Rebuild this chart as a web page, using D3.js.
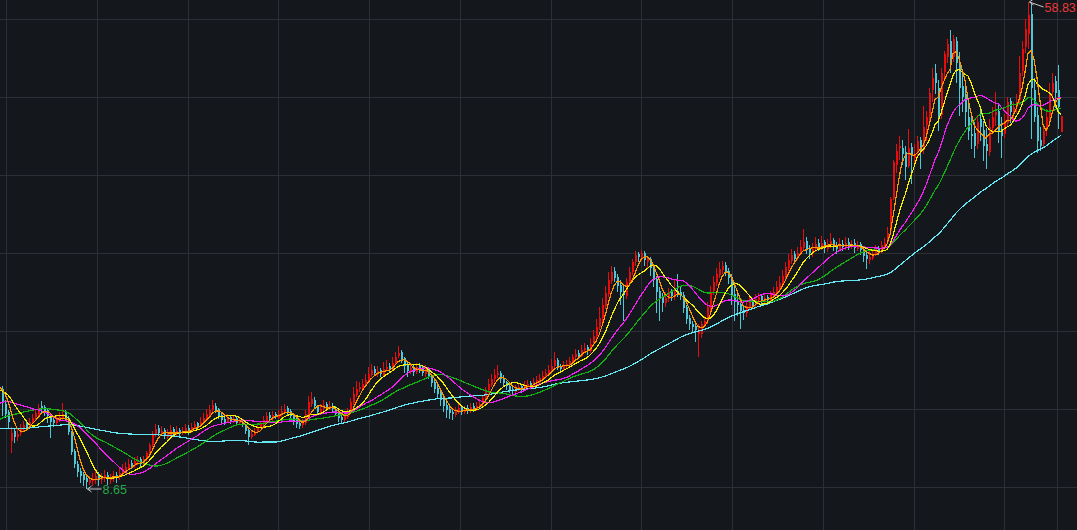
<!DOCTYPE html>
<html><head><meta charset="utf-8">
<script src="https://cdn.jsdelivr.net/npm/d3@7"></script>
<style>html,body{margin:0;padding:0;background:#14171c;overflow:hidden}</style>
</head><body><svg id="c" width="1077" height="530"></svg>
<script>
// closes before the visible window (only feed the moving averages)
const priorClose = [14.8,15.1,14.9,14.6,14.4,14.7,14.9,14.5,14.3,14.5,
14.6,14.2,13.9,14.3,14.8,14.5,14.0,13.7,13.9,14.2,
14.5,14.1,13.8,13.5,13.9,14.3,14.0,13.6,13.4,13.8,
14.1,14.4,14.0,13.7,13.5,13.9,14.2,13.8,13.4,13.1,
12.8,12.4,12.1,12.3,12.0,12.2,12.6,12.5,12.9,13.4,
14.2,15.0,15.4,15.9,16.3,16.0,16.5,16.8,17.0,17.3,
17.9,18.3,18.0,18.6,18.9,19.2,18.8,19.3,19.5,19.4];

const openV = [19.0,17.4,16.6,13.6,14.6,14.0,14.4,14.8,15.4,15.1,
15.6,16.1,16.3,17.2,17.1,16.8,16.3,15.8,15.5,15.8,
16.0,16.6,16.0,14.4,12.6,11.2,10.5,10.2,9.8,9.3,
9.5,9.6,10.0,9.6,9.8,10.1,9.6,9.7,10.1,9.9,
10.3,10.6,10.8,11.3,11.0,11.4,11.7,11.2,11.7,12.3,
13.2,14.2,14.9,14.3,14.7,14.0,14.2,14.8,14.3,14.7,
14.4,14.5,14.9,14.6,14.9,15.4,15.1,15.5,15.9,16.3,
16.8,17.2,16.9,16.3,15.9,15.6,16.1,15.6,16.0,15.4,
15.6,15.1,14.7,14.0,14.2,14.5,15.0,15.3,15.7,16.3,
15.9,16.4,16.0,16.3,16.6,17.0,16.7,16.2,15.8,15.4,
15.2,15.4,16.4,17.4,17.8,17.1,16.6,16.9,17.4,16.9,
17.2,16.9,16.5,16.1,15.8,16.1,16.5,17.5,18.3,19.0,
19.1,19.5,19.9,20.4,21.0,20.5,20.9,20.4,21.0,21.3,
21.0,21.6,22.4,22.8,22.1,21.4,20.8,21.2,20.7,21.3,
21.0,20.5,21.0,20.3,19.7,19.1,18.5,17.9,17.3,16.9,
16.6,16.3,16.6,17.1,16.6,17.0,16.7,17.2,16.8,17.1,
17.4,18.0,18.8,19.4,20.0,20.4,20.6,20.1,19.7,19.3,
19.0,18.6,18.9,19.3,18.9,19.3,19.6,19.3,19.6,19.8,
20.0,20.3,20.6,20.9,21.3,21.9,21.3,21.0,21.3,21.5,
21.8,22.2,22.7,22.4,23.0,23.3,22.9,23.6,24.4,25.3,
26.3,27.5,28.7,30.1,31.1,30.5,29.7,29.1,28.5,29.9,
31.0,32.0,32.9,32.5,33.0,32.0,32.4,31.5,30.3,29.1,
28.4,27.8,28.2,28.9,28.4,29.1,29.0,28.6,27.4,26.3,
25.7,25.4,24.6,24.6,25.6,26.0,27.3,29.1,29.9,30.7,
31.2,31.7,31.1,30.5,28.7,28.0,27.7,27.1,26.8,27.4,
27.9,27.6,28.1,28.5,28.0,28.4,28.1,28.5,28.8,29.4,
29.9,30.6,31.4,32.1,32.9,32.5,33.0,33.5,34.2,33.5,
33.0,33.4,34.0,33.6,34.1,33.4,33.8,34.3,33.8,33.4,
33.9,33.5,34.1,33.6,34.0,33.4,33.9,33.3,32.8,32.2,
32.5,32.9,33.5,33.2,33.8,34.1,35.2,38.6,42.0,43.8,
43.8,43.4,41.9,43.9,42.8,43.3,44.6,43.6,46.2,47.1,
49.8,51.5,50.0,47.2,51.6,53.2,54.8,53.2,54.8,52.3,
50.2,49.3,47.0,45.2,45.3,44.2,46.8,45.6,44.2,43.4,
45.8,47.2,47.6,45.6,45.2,46.4,48.6,47.3,48.0,48.7,
51.7,54.2,55.5,57.6,49.8,47.2,44.6,44.2,45.6,47.1,
49.6,50.7,49.8,45.4];

const highV = [19.3,17.8,16.8,15.0,14.9,14.8,15.3,15.7,15.8,16.0,
16.4,16.9,17.4,17.7,17.3,17.0,16.5,16.1,16.3,16.6,
17.5,16.8,16.2,14.6,12.8,11.5,10.8,10.4,10.1,10.0,
10.3,10.5,10.4,10.3,10.6,10.4,10.2,10.5,10.4,10.9,
11.2,11.4,11.7,11.6,11.9,12.0,11.9,12.1,12.6,13.4,
14.6,15.3,15.2,15.1,14.9,14.8,15.2,15.0,15.1,14.9,
15.0,15.3,15.2,15.5,15.7,15.6,16.1,16.5,16.9,17.3,
17.8,17.5,17.0,16.5,16.2,16.4,16.3,16.3,16.2,16.0,
15.8,15.3,14.9,14.7,14.9,15.3,15.7,16.2,16.6,16.6,
16.7,16.6,16.8,17.2,17.4,17.2,16.9,16.4,16.0,15.8,
15.9,16.8,18.2,18.6,18.1,17.3,17.4,17.8,17.6,17.7,
17.5,17.2,16.7,16.4,16.6,17.0,18.0,19.2,19.8,19.7,
20.0,20.5,21.2,21.5,21.3,21.3,21.1,21.7,21.9,21.6,
22.2,22.8,23.4,23.0,22.3,21.7,21.5,21.5,21.6,21.6,
21.3,21.4,21.2,20.5,20.0,19.4,18.8,18.2,17.6,17.2,
16.9,17.1,17.4,17.3,17.2,17.3,17.5,17.5,17.6,17.9,
18.3,19.2,20.0,20.5,21.0,21.4,20.8,20.4,19.8,19.5,
19.3,19.4,19.6,19.5,19.8,19.9,19.8,20.1,20.3,20.5,
20.8,21.0,21.4,22.0,22.8,22.1,21.5,21.8,21.9,22.3,
22.6,23.1,23.0,23.5,23.7,23.5,24.2,25.0,26.2,27.4,
28.3,29.6,31.0,31.6,31.5,30.8,30.2,29.6,30.4,31.5,
32.4,33.2,33.1,33.3,33.2,32.7,32.6,31.8,30.6,29.5,
28.8,28.9,29.4,29.3,30.2,30.8,29.6,28.9,27.6,26.6,
26.0,25.8,25.6,26.0,26.5,27.9,29.6,30.6,31.4,32.0,
32.1,32.0,31.4,30.8,29.8,28.8,28.2,27.6,27.9,28.4,
28.2,28.7,28.8,28.7,28.8,28.6,29.1,29.5,30.1,30.6,
31.2,32.0,32.9,33.4,33.2,33.6,34.3,35.4,34.6,33.8,
34.0,34.6,34.4,34.7,34.3,34.4,35.0,34.5,34.1,34.5,
34.3,34.6,34.5,34.3,34.4,34.2,34.1,33.6,33.1,33.2,
33.2,33.8,33.7,34.2,34.5,35.6,38.7,42.6,44.2,45.0,
44.6,44.0,45.7,44.3,44.2,45.0,44.9,48.1,47.6,50.0,
52.0,52.4,50.8,52.0,53.8,55.0,55.9,55.4,55.2,53.7,
51.6,50.3,48.5,47.0,46.5,47.2,48.0,46.6,45.8,46.8,
48.0,49.6,48.2,47.0,47.3,49.0,48.9,48.5,49.3,53.3,
54.8,57.1,58.83,58.6,51.0,48.0,46.0,46.2,47.8,50.5,
51.5,51.2,52.3,47.1];

const lowV = [16.2,16.0,14.8,12.4,13.4,13.6,14.1,14.6,14.6,14.9,
15.3,15.8,16.0,16.4,16.2,15.4,13.9,15.0,15.2,15.6,
15.8,15.8,14.2,12.2,10.8,9.9,9.3,9.0,8.65,9.1,
9.0,9.2,9.0,9.2,9.4,9.1,9.2,9.4,9.3,9.6,
10.1,10.4,10.6,10.7,10.8,11.1,10.9,11.0,11.5,12.2,
13.0,14.0,14.1,14.1,13.8,13.8,14.0,14.0,14.1,14.0,
14.2,14.3,14.2,14.4,14.8,14.8,15.0,15.3,15.7,16.1,
16.6,16.5,15.9,15.4,15.2,15.4,15.3,15.5,15.1,15.2,
15.0,14.3,13.2,13.8,14.1,14.4,14.9,15.1,15.5,15.8,
15.7,15.9,15.9,16.1,16.5,16.3,15.9,15.2,14.9,14.8,
14.9,15.2,16.2,17.1,16.9,16.3,16.4,16.7,16.7,16.8,
16.6,16.2,15.6,15.5,15.6,15.9,16.4,17.3,18.1,18.6,
18.9,19.2,19.7,20.2,20.3,20.2,20.2,20.3,20.8,20.6,
20.8,21.4,22.1,21.6,20.6,20.2,20.5,20.3,20.5,20.6,
20.3,20.2,20.0,19.2,18.5,17.9,17.2,16.6,16.0,15.9,
15.8,16.1,16.4,16.3,16.4,16.4,16.5,16.6,16.7,17.0,
17.2,17.8,18.5,19.2,19.7,20.1,19.6,19.2,18.8,18.5,
18.3,18.4,18.7,18.5,18.7,19.1,19.0,19.1,19.4,19.6,
19.9,20.1,20.4,20.7,21.1,20.9,20.6,20.9,21.1,21.3,
21.6,22.0,22.1,22.3,22.8,22.5,22.7,23.4,24.1,25.0,
25.9,27.2,28.4,29.8,30.0,28.9,27.6,26.0,28.2,29.6,
30.7,31.6,32.0,32.1,31.6,31.3,30.6,29.5,26.8,26.0,
26.9,27.4,27.9,28.0,28.1,28.4,28.1,26.8,25.7,25.0,
24.8,23.8,22.2,24.2,25.3,25.7,27.0,28.6,29.6,30.4,
30.8,30.6,29.8,27.6,26.0,26.5,25.1,26.1,26.4,27.1,
27.2,27.3,27.8,27.6,27.7,27.6,27.9,28.3,28.6,29.1,
29.7,30.3,31.1,31.8,31.9,32.2,32.8,33.3,32.9,32.4,
32.6,33.1,33.2,33.3,33.0,33.1,33.5,33.2,32.9,33.2,
33.2,33.3,33.3,33.4,33.0,33.2,32.8,32.0,31.3,31.8,
32.2,32.7,32.8,33.0,33.5,33.9,35.0,38.4,41.2,42.6,
42.0,40.5,41.7,40.1,42.0,42.8,41.6,43.2,44.5,46.5,
48.5,49.3,45.5,46.8,50.9,52.5,51.5,52.6,50.5,47.1,
47.5,46.0,44.6,43.7,42.8,43.7,44.5,42.4,41.6,43.0,
45.2,46.1,44.3,42.8,44.8,46.0,46.4,46.8,47.4,48.2,
51.2,53.6,54.0,44.7,46.5,43.3,43.5,43.8,45.0,46.6,
48.8,47.9,45.7,45.4];

const closeV = [17.6,16.4,15.6,14.4,14.0,14.3,14.9,15.2,15.0,15.6,
16.0,16.5,16.9,17.0,16.7,16.2,15.6,15.4,15.9,16.1,
16.4,16.0,14.5,12.5,11.2,10.4,10.0,9.6,9.4,9.6,
9.7,10.0,9.6,9.9,10.1,9.7,9.8,10.0,9.9,10.3,
10.7,10.9,11.2,11.0,11.5,11.6,11.2,11.7,12.4,13.2,
14.3,14.8,14.4,14.6,14.1,14.3,14.7,14.4,14.6,14.3,
14.6,14.9,14.5,15.0,15.3,15.1,15.6,16.0,16.4,16.8,
17.3,16.8,16.2,15.8,15.6,16.0,15.7,15.9,15.5,15.6,
15.2,14.6,14.0,14.3,14.5,15.0,15.3,15.8,16.2,16.0,
16.3,16.1,16.4,16.7,16.9,16.6,16.2,15.7,15.3,15.1,
15.4,16.4,17.6,17.9,17.2,16.6,16.9,17.3,17.0,17.2,
16.9,16.4,16.0,15.8,16.2,16.5,17.6,18.4,19.0,19.2,
19.5,19.9,20.5,20.9,20.6,20.8,20.5,21.0,21.2,21.0,
21.6,22.3,22.7,22.0,21.3,20.8,21.1,20.7,21.2,20.9,
20.6,21.0,20.3,19.6,19.0,18.4,17.8,17.2,16.8,16.5,
16.4,16.7,17.0,16.6,16.9,16.7,17.1,16.9,17.2,17.4,
18.0,18.8,19.5,20.0,20.4,20.6,20.0,19.6,19.3,18.9,
18.7,19.0,19.2,18.9,19.4,19.5,19.3,19.7,19.9,20.1,
20.3,20.6,20.9,21.3,21.9,21.2,21.0,21.3,21.5,21.8,
22.2,22.6,22.4,23.0,23.2,22.9,23.6,24.4,25.3,26.3,
27.6,28.8,30.2,31.0,30.4,29.6,29.0,28.6,30.0,31.0,
32.0,32.8,32.6,33.0,32.2,32.3,31.4,30.2,29.0,28.3,
27.8,28.3,28.8,28.5,29.0,28.9,28.5,27.3,26.2,25.6,
25.3,25.0,24.9,25.6,26.0,27.4,29.0,30.0,30.8,31.3,
31.6,31.0,30.4,28.6,27.9,27.6,27.0,26.8,27.5,27.9,
27.6,28.2,28.4,28.0,28.3,28.1,28.6,28.9,29.5,29.9,
30.6,31.5,32.2,32.8,32.4,33.0,33.6,34.1,33.4,33.0,
33.4,33.9,33.6,34.0,33.5,33.8,34.2,33.7,33.4,33.9,
33.6,34.0,33.7,33.9,33.5,33.8,33.3,32.7,32.3,32.6,
32.9,33.4,33.2,33.8,34.0,35.0,38.5,42.3,43.5,44.0,
43.2,41.8,43.8,43.0,43.2,44.5,43.5,46.0,47.0,49.5,
51.0,50.5,47.0,51.5,53.5,54.5,53.0,55.0,52.5,50.0,
49.0,47.5,45.5,45.0,44.0,46.5,46.0,44.0,43.5,46.0,
47.0,47.5,45.5,45.0,46.5,48.5,47.5,48.0,48.5,51.5,
54.0,56.0,57.5,50.0,47.0,44.5,44.0,45.5,47.0,49.5,
50.5,49.5,48.0,47.1];

const maPeriods = [70, 30, 20, 10, 5];
const maColors  = ["#66e8f4", "#12b012", "#f020f0", "#f4f000", "#ff9600"];

const W = 1077, H = 530;
const upColor = "#e80c0c", downColor = "#4cc8d6";
const gridColor = "#2c3036";

const svg = d3.select("#c");
svg.append("rect").attr("width", W).attr("height", H).attr("fill", "#14171c");

const n = closeV.length;
const x = d3.scaleLinear().domain([0, n - 1]).range([2, 1061]);
const y = d3.scaleLinear().domain([8.65, 58.83]).range([489, 2]);

// grid
const gridY = d3.range(7).map(i => 19 + i * 78);
const gridX = d3.range(12).map(i => 6 + i * 90.75).concat([1057]);
const g = svg.append("g").attr("shape-rendering", "crispEdges");
g.selectAll("line.h").data(gridY).join("line").attr("class", "h")
  .attr("x1", 0).attr("x2", W).attr("y1", d => Math.round(d) + 0.5).attr("y2", d => Math.round(d) + 0.5)
  .attr("stroke", gridColor).attr("stroke-width", 1);
g.selectAll("line.v").data(gridX).join("line").attr("class", "v")
  .attr("y1", 0).attr("y2", H).attr("x1", d => Math.round(d) + 0.5).attr("x2", d => Math.round(d) + 0.5)
  .attr("stroke", gridColor).attr("stroke-width", 1);

// candles
const candles = d3.range(n).map(i => ({ i, o: openV[i], h: highV[i], l: lowV[i], c: closeV[i] }));
const cg = svg.append("g").attr("shape-rendering", "crispEdges");
const cs = cg.selectAll("g").data(candles).join("g");
cs.append("line")
  .attr("x1", d => Math.round(x(d.i)) + 0.5).attr("x2", d => Math.round(x(d.i)) + 0.5)
  .attr("y1", d => y(d.h)).attr("y2", d => y(d.l))
  .attr("stroke", d => d.c >= d.o ? upColor : downColor).attr("stroke-width", 1);
cs.append("rect")
  .attr("x", d => Math.round(x(d.i)))
  .attr("width", 2)
  .attr("y", d => y(Math.max(d.o, d.c)))
  .attr("height", d => Math.max(1, Math.abs(y(d.o) - y(d.c))))
  .attr("fill", d => d.c >= d.o ? upColor : downColor);

// moving averages
const all = priorClose.concat(closeV);
const P = priorClose.length;
function ma(p) {
  return d3.range(-1, n).map(i => {
    const k = i + P;
    return { i, v: d3.mean(all.slice(k - p + 1, k + 1)) };
  });
}
const line = d3.line().x(d => x(d.i)).y(d => y(d.v));
maPeriods.forEach((p, j) => {
  svg.append("path").datum(ma(p))
    .attr("d", line).attr("fill", "none")
    .attr("shape-rendering", "crispEdges")
    .attr("stroke", maColors[j]).attr("stroke-width", 1.2);
});

// extreme labels
const iMax = d3.maxIndex(highV), iMin = d3.minIndex(lowV);
function marker(i, v, color) {
  const x0 = Math.round(x(i)) + 1.5, y0 = y(v);
  const ty = Math.max(7, Math.min(H - 6, y0));
  const m = svg.append("g");
  m.append("path").attr("d", `M${x0 + 4},${y0 - 3}L${x0},${y0}L${x0 + 4},${y0 + 3}M${x0},${y0}L${x0 + 14},${ty}`)
    .attr("stroke", "#c8c8c8").attr("fill", "none").attr("stroke-width", 1);
  m.append("text").attr("x", x0 + 15).attr("y", ty).attr("dy", "0.36em")
    .attr("font-family", "Liberation Sans, Arial, sans-serif").attr("font-size", 12.5)
    .attr("fill", color).text(v.toFixed(2));
}
marker(iMax, highV[iMax], "#ec3a3a");
marker(iMin, lowV[iMin], "#23a948");
</script>
</body></html>
